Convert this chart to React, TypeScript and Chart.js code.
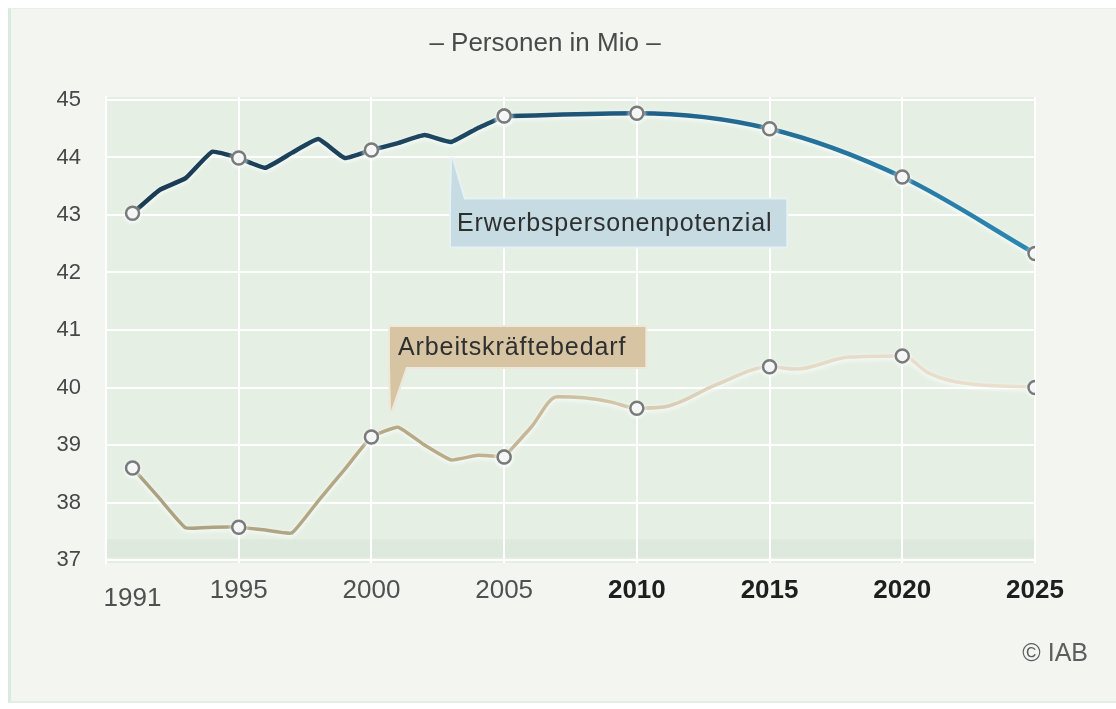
import React, { useEffect, useRef } from 'react';
import { Chart, registerables } from 'chart.js';

Chart.register(...registerables);

const FONT = '"Liberation Sans", Arial, Helvetica, sans-serif';

// ---- Data ----
const potYears = [1991, 1992, 1993, 1994, 1995, 1996, 1997, 1998, 1999, 2000, 2001, 2002, 2003, 2004, 2005, 2010, 2015, 2020, 2025];
const potValues = [43.03, 43.43, 43.64, 44.1, 43.99, 43.82, 44.08, 44.32, 43.99, 44.13, 44.25, 44.39, 44.27, 44.51, 44.72, 44.77, 44.5, 43.66, 42.33];

const bedYears = [1991, 1992, 1993, 1994, 1995, 1996, 1997, 1998, 1999, 2000, 2001, 2002, 2003, 2004, 2005, 2006, 2007, 2008, 2009, 2010, 2011, 2013, 2015, 2016, 2018, 2020, 2021, 2022, 2025];
const bedValues = [38.6, 38.08, 37.56, 37.57, 37.57, 37.52, 37.47, 38.03, 38.58, 39.14, 39.31, 39.0, 38.74, 38.82, 38.79, 39.3, 39.84, 39.82, 39.75, 39.64, 39.66, 40.05, 40.36, 40.32, 40.53, 40.55, 40.25, 40.1, 40.0];

const markerYears = [1991, 1995, 2000, 2005, 2010, 2015, 2020, 2025];
const xTickValues = [1991, 1995, 2000, 2005, 2010, 2015, 2020, 2025];
const yTickValues = [37, 38, 39, 40, 41, 42, 43, 44, 45];
const seriesNames = ['Erwerbspersonenpotenzial', 'Arbeitskräftebedarf'];
const titleText = '– Personen in Mio –';
const sourceText = '© IAB';
const lastObservedYear = 2005;

// ---- Callout label configs (anchored in data coordinates) ----
const callouts = [
  { text: seriesNames[0], year: 2003, top: 43.27, tip: 43.98, dir: 'up', height: 47, padL: 6, padR: 14, size: 25, spacing: 0.8, wedge: 13, tipDx: 1, fill: '#c7dbe3', edge: '#e6f1f4' },
  { text: seriesNames[1], year: 2000.7, top: 41.05, tip: 39.6, dir: 'down', height: 40, padL: 8, padR: 19, size: 25, spacing: 0.9, wedge: 16, tipDx: 1, fill: '#d7c4a3', edge: '#efe7d8' },
];

const blueStops: [number, string][] = [[0, '#1b3a52'], [0.4, '#1e4862'], [0.6, '#22628a'], [1, '#2b88b2']];
const tanStops: [number, string][] = [[0, '#a8a07f'], [0.35, '#b8aa86'], [0.5, '#cdbf9f'], [0.7, '#e4d9c6'], [1, '#ebe0cf']];

function grad(chart: any, stops: [number, string][]) {
  const { ctx, chartArea } = chart;
  if (!chartArea) return stops[0][1];
  const g = ctx.createLinearGradient(chartArea.left, 0, chartArea.right, 0);
  stops.forEach(([o, c]) => g.addColorStop(o, c));
  return g;
}

function drawCallout(chart: any, co: any) {
  const { ctx, scales } = chart;
  const x = scales.x;
  const y = scales.y;
  ctx.save();
  ctx.font = `${co.size}px ${FONT}`;
  (ctx as any).letterSpacing = co.spacing + 'px';
  const tw = ctx.measureText(co.text).width;
  const left = x.getPixelForValue(co.year);
  const top = y.getPixelForValue(co.top);
  const w = tw + co.padL + co.padR;
  const h = co.height;
  const tipX = left + co.tipDx;
  const tipY = y.getPixelForValue(co.tip);
  ctx.beginPath();
  if (co.dir === 'up') {
    ctx.moveTo(left, top);
    ctx.lineTo(tipX, tipY);
    ctx.lineTo(left + co.wedge, top);
    ctx.lineTo(left + w, top);
    ctx.lineTo(left + w, top + h);
    ctx.lineTo(left, top + h);
    ctx.closePath();
  } else {
    ctx.moveTo(left, top);
    ctx.lineTo(left + w, top);
    ctx.lineTo(left + w, top + h);
    ctx.lineTo(left + co.wedge, top + h);
    ctx.lineTo(tipX, tipY);
    ctx.lineTo(left, top + h);
    ctx.closePath();
  }
  ctx.lineJoin = 'round';
  ctx.lineWidth = 4;
  ctx.strokeStyle = co.edge;
  ctx.stroke();
  ctx.fillStyle = co.fill;
  ctx.fill();
  ctx.fillStyle = '#2e3030';
  ctx.textAlign = 'left';
  ctx.textBaseline = 'middle';
  ctx.fillText(co.text, left + co.padL, top + h / 2 + 1);
  ctx.restore();
}

const decorPlugin = {
  id: 'decor',
  beforeDraw(chart: any) {
    const { ctx, chartArea, scales } = chart;
    const { left, right, top, bottom } = chartArea;
    ctx.save();
    ctx.fillStyle = '#e6efe4';
    ctx.fillRect(left, top, right - left, bottom - top);
    const y1 = scales.y.getPixelForValue(37.36);
    const y2 = scales.y.getPixelForValue(37.04);
    ctx.fillStyle = 'rgba(190,205,190,0.18)';
    ctx.fillRect(left, y1, right - left, y2 - y1);
    ctx.restore();
  },
  beforeDatasetDraw(chart: any) {
    const ctx = chart.ctx;
    ctx.save();
    ctx.shadowColor = 'rgba(250,255,255,0.95)';
    ctx.shadowBlur = 4;
    ctx.shadowOffsetY = 1.5;
  },
  afterDatasetDraw(chart: any) {
    chart.ctx.restore();
  },
  afterDraw(chart: any) {
    const { ctx } = chart;
    callouts.forEach((co) => drawCallout(chart, co));
    ctx.save();
    ctx.font = `26px ${FONT}`;
    ctx.fillStyle = '#4a4a4a';
    ctx.textAlign = 'center';
    ctx.textBaseline = 'middle';
    ctx.fillText(titleText, 545, 44);
    ctx.font = `25px ${FONT}`;
    ctx.fillStyle = '#5e5e5e';
    ctx.textAlign = 'right';
    ctx.fillText(sourceText, 1088, 654);
    ctx.restore();
  },
};

function toPoints(years: number[], values: number[], part: 'hist' | 'proj') {
  const pts = years.map((x, i) => ({ x, y: values[i] }));
  return part === 'hist' ? pts.filter((p) => p.x <= lastObservedYear) : pts.filter((p) => p.x >= lastObservedYear);
}

export default function App() {
  const ref = useRef<HTMLCanvasElement | null>(null);

  useEffect(() => {
    if (!ref.current) return;
    const pointRadius = (c: any) => (c.raw && markerYears.includes(c.raw.x) ? 6.5 : 0);
    const common = {
      pointRadius,
      pointBackgroundColor: '#f4f5f5',
      pointBorderColor: '#7a7a7a',
      pointBorderWidth: 2.5,
      fill: false,
    };
    const chart = new Chart(ref.current, {
      type: 'line',
      data: {
        datasets: [
          {
            ...common,
            label: seriesNames[0],
            data: toPoints(potYears, potValues, 'proj'),
            borderColor: (c: any) => grad(c.chart, blueStops),
            borderWidth: 4.5,
            cubicInterpolationMode: 'monotone',
          },
          {
            ...common,
            label: seriesNames[0],
            data: toPoints(potYears, potValues, 'hist'),
            borderColor: (c: any) => grad(c.chart, blueStops),
            borderWidth: 4.5,
            tension: 0.12,
          },
          {
            ...common,
            label: seriesNames[1],
            data: toPoints(bedYears, bedValues, 'proj'),
            borderColor: (c: any) => grad(c.chart, tanStops),
            borderWidth: 3.5,
            cubicInterpolationMode: 'monotone',
          },
          {
            ...common,
            label: seriesNames[1],
            data: toPoints(bedYears, bedValues, 'hist'),
            borderColor: (c: any) => grad(c.chart, tanStops),
            borderWidth: 3.5,
            tension: 0.12,
          },
        ],
      } as any,
      options: {
        animation: false,
        responsive: false,
        events: [],
        layout: { padding: { left: 0, top: 97, right: 81, bottom: 0 } },
        plugins: { legend: { display: false }, tooltip: { enabled: false }, title: { display: false } },
        scales: {
          x: {
            type: 'linear',
            min: 1990,
            max: 2025,
            afterBuildTicks: (s: any) => {
              s.ticks = xTickValues.map((v) => ({ value: v }));
            },
            afterFit: (s: any) => {
              s.height = 146;
            },
            grid: {
              color: (c: any) => (c.tick && c.tick.value === 1991 ? 'rgba(0,0,0,0)' : '#ffffff'),
              lineWidth: 2,
              drawTicks: false,
            },
            border: { display: false },
            ticks: {
              autoSkip: false,
              maxRotation: 0,
              padding: 12,
              callback: (v: any) => (v === 1991 ? ['', String(v)] : String(v)),
              color: (c: any) => (c.tick && c.tick.value >= 2010 ? '#1e1e1e' : '#505050'),
              font: (c: any) => ({
                family: FONT,
                size: 26,
                weight: c.tick && c.tick.value >= 2010 ? 'bold' : 'normal',
                lineHeight: c.tick && c.tick.value === 1991 ? 0.62 : 1.2,
              }),
            },
          },
          y: {
            type: 'linear',
            min: 36.948,
            max: 45.052,
            afterBuildTicks: (s: any) => {
              s.ticks = yTickValues.map((v) => ({ value: v }));
            },
            afterFit: (s: any) => {
              s.width = 106;
            },
            grid: { color: '#ffffff', lineWidth: 2, drawTicks: false },
            border: { display: true, color: '#ffffff', width: 2 },
            ticks: {
              padding: 25,
              color: '#474747',
              font: { family: FONT, size: 22 },
              callback: (v: any) => String(v),
            },
          },
        },
      } as any,
      plugins: [decorPlugin],
    });
    return () => chart.destroy();
  }, []);

  return (
    <div style={{ position: 'absolute', left: 0, top: 0, width: 1116, height: 709, overflow: 'hidden', background: '#ffffff' }}>
      <div
        style={{
          position: 'absolute',
          left: 8,
          top: 8,
          width: 1108,
          height: 695,
          background: '#f3f5f1',
          borderLeft: '3px solid #d7ebde',
          borderTop: '1px solid #e8efe9',
          borderBottom: '2px solid #e3efe6',
          boxSizing: 'border-box',
        }}
      />
      <canvas ref={ref} width={1116} height={709} style={{ position: 'absolute', left: 0, top: 0 }} />
    </div>
  );
}
